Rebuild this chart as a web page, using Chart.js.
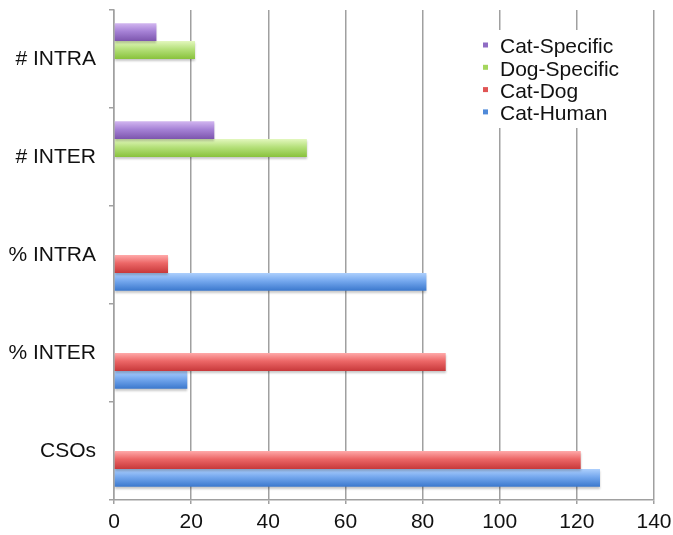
<!DOCTYPE html>
<html>
<head>
<meta charset="utf-8">
<script src="https://cdn.jsdelivr.net/npm/chart.js@4/dist/chart.umd.min.js"></script>
<style>
  html, body { margin: 0; padding: 0; background: #fff; }
  #wrap { width: 673px; height: 535px; position: relative; }
</style>
</head>
<body>
<div id="wrap"><canvas id="chart"></canvas></div>
<script>
// Categories, listed top to bottom
const categories = ['# INTRA', '# INTER', '% INTRA', '% INTER', 'CSOs'];

// Series values
const catSpecific = [11, 26, null, null, null];
const dogSpecific = [21, 50, null, null, null];
const catDog      = [null, null, 14, 86, 121];
const catHuman    = [null, null, 81, 19, 126];

// Value axis tick labels
const xTicks = [0, 20, 40, 60, 80, 100, 120, 140];

const seriesNames = ['Cat-Specific', 'Dog-Specific', 'Cat-Dog', 'Cat-Human'];

// Shading per series: top highlight, middle, bottom edge
const shades = [
  ['#d2b6f0', '#a682d6', '#7c55ad'],
  ['#e2f7bd', '#b5e07a', '#88c23c'],
  ['#ffaaaa', '#ec6767', '#c8393b'],
  ['#aed0fd', '#75a8ee', '#3b78cd']
];
const legendSwatch = ['#8f6cc4', '#a5d65d', '#e05555', '#4f8ad9'];

const FONT = "'Liberation Sans', Arial, Helvetica, sans-serif";
const GRID = '#a0a0a0';

// Fill every bar with a vertical gloss gradient spanning its own height
const glossBars = {
  id: 'glossBars',
  beforeDatasetsDraw(chart) {
    const ctx = chart.ctx;
    chart.data.datasets.forEach((ds, i) => {
      const meta = chart.getDatasetMeta(i);
      const s = shades[i];
      meta.data.forEach(el => {
        if (el.x == null || el.y == null || !isFinite(el.height)) return;
        const top = el.y - el.height / 2;
        const bot = el.y + el.height / 2;
        const g = ctx.createLinearGradient(0, top, 0, bot);
        g.addColorStop(0, s[0]);
        g.addColorStop(0.45, s[1]);
        g.addColorStop(1, s[2]);
        el.options = Object.assign({}, el.options, { backgroundColor: g });
      });
    });
  },
  beforeDatasetDraw(chart) {
    const ctx = chart.ctx;
    ctx.save();
    ctx.shadowColor = 'rgba(0,0,0,0.22)';
    ctx.shadowOffsetY = 2;
    ctx.shadowBlur = 2;
  },
  afterDatasetDraw(chart) {
    chart.ctx.restore();
  }
};

// Legend box drawn inside the plot, top right
const innerLegend = {
  id: 'innerLegend',
  afterDraw(chart) {
    const ctx = chart.ctx;
    const area = chart.chartArea;
    const boxRight = area.right - 12;
    const boxLeft = boxRight - 166;
    const boxTop = area.top + 20;
    ctx.save();
    ctx.fillStyle = '#ffffff';
    ctx.fillRect(boxLeft, boxTop, boxRight - boxLeft, 98);
    ctx.font = '21px ' + FONT;
    ctx.textBaseline = 'middle';
    ctx.textAlign = 'left';
    chart.data.datasets.forEach((ds, i) => {
      const cy = boxTop + 16.5 + i * 22.3;
      ctx.fillStyle = legendSwatch[i];
      ctx.fillRect(boxLeft + 7, cy - 4, 5, 5);
      ctx.fillStyle = '#111';
      ctx.fillText(ds.label, boxLeft + 24, cy + 1);
    });
    ctx.restore();
  }
};

const seriesData = [catSpecific, dogSpecific, catDog, catHuman];

new Chart(document.getElementById('chart'), {
  type: 'bar',
  data: {
    labels: categories,
    datasets: seriesNames.map((name, i) => ({
      label: name,
      data: seriesData[i],
      backgroundColor: legendSwatch[i],
      borderWidth: 0,
      categoryPercentage: 0.73,
      barPercentage: 1.0
    }))
  },
  options: {
    indexAxis: 'y',
    responsive: true,
    maintainAspectRatio: false,
    animation: false,
    layout: { padding: { top: 10, right: 19, bottom: 0, left: 0 } },
    plugins: {
      legend: { display: false },
      tooltip: { enabled: false }
    },
    scales: {
      x: {
        min: 0,
        max: 140,
        z: 1,
        afterBuildTicks(scale) {
          scale.ticks = xTicks.map(v => ({ value: v }));
        },
        afterFit(scale) {
          scale.height = 35;
          scale.paddingLeft = 0;
          scale.paddingRight = 0;
        },
        grid: {
          color: GRID,
          lineWidth: 1.5,
          tickLength: 4,
          drawTicks: true
        },
        border: { display: true, color: GRID, width: 1.5 },
        ticks: {
          color: '#111',
          padding: 6,
          maxRotation: 0,
          font: { family: FONT, size: 21 }
        }
      },
      y: {
        afterFit(scale) {
          scale.width = 114;
          scale.paddingTop = 0;
          scale.paddingBottom = 0;
        },
        grid: {
          drawOnChartArea: false,
          drawTicks: true,
          tickLength: 5,
          color: GRID,
          lineWidth: 1.5
        },
        border: { display: true, color: GRID, width: 1.5 },
        ticks: {
          color: '#111',
          padding: 13,
          font: { family: FONT, size: 21 }
        }
      }
    }
  },
  plugins: [glossBars, innerLegend]
});
</script>
</body>
</html>
